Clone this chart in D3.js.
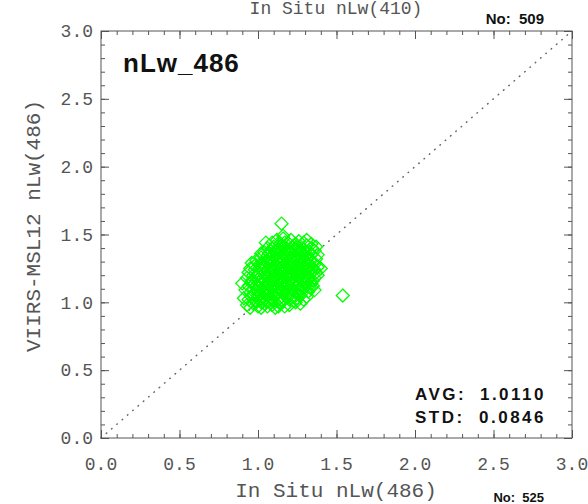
<!DOCTYPE html>
<html>
<head>
<meta charset="utf-8">
<script src="https://cdn.jsdelivr.net/npm/d3@7"></script>
<style>
  body { margin: 0; background: #fff; }
  svg { display: block; }
</style>
</head>
<body>
<div id="chart-area"></div>
<script>
// matchups: [in situ nLw(486), VIIRS-MSL12 nLw(486)]
var points = [
  [0.93,0.98],[0.95,0.96],[0.97,0.99],[1.00,0.97],[1.02,0.96],[1.04,0.99],[1.06,0.97],[1.09,0.98],
  [1.11,0.96],[1.14,0.99],[1.17,0.97],[1.20,0.98],[0.99,1.00],[1.08,1.00],[1.13,0.97],
  [0.94,1.02],[0.96,1.04],[0.98,1.01],[1.00,1.05],[1.01,1.02],[1.03,1.04],[1.05,1.01],[1.06,1.05],
  [1.08,1.03],[1.10,1.01],[1.11,1.05],[1.13,1.02],[1.15,1.04],[1.16,1.01],[1.18,1.05],[1.20,1.02],
  [1.22,1.04],[1.23,1.01],[1.25,1.03],[1.27,1.05],[1.29,1.02],[1.31,1.04],[0.97,1.06],[1.04,1.06],
  [1.12,1.06],[1.19,1.06],[1.26,1.06],[1.02,1.00],[1.14,1.00],[1.24,1.00],
  [0.92,1.09],[0.94,1.12],[0.95,1.07],[0.97,1.10],[0.98,1.14],[1.00,1.08],[1.01,1.11],[1.02,1.14],
  [1.04,1.07],[1.05,1.10],[1.06,1.13],[1.08,1.08],[1.09,1.11],[1.10,1.14],[1.12,1.07],[1.13,1.10],
  [1.14,1.13],[1.16,1.08],[1.17,1.11],[1.18,1.14],[1.20,1.07],[1.21,1.10],[1.22,1.13],[1.24,1.08],
  [1.25,1.11],[1.26,1.14],[1.28,1.07],[1.29,1.10],[1.30,1.13],[1.32,1.08],[1.33,1.11],[1.34,1.14],
  [1.36,1.09],[1.35,1.12],[0.96,1.15],[1.03,1.09],[1.07,1.15],[1.11,1.12],[1.15,1.09],[1.19,1.12],
  [1.23,1.15],[1.27,1.09],[1.31,1.15],[0.99,1.12],[1.06,1.06],[1.15,1.15],[1.21,1.08],[1.28,1.12],
  [1.12,1.09],[1.18,1.07],
  [0.93,1.18],[0.94,1.22],[0.96,1.16],[0.97,1.20],[0.98,1.24],[1.00,1.17],[1.01,1.21],[1.02,1.25],
  [1.04,1.16],[1.05,1.19],[1.06,1.23],[1.08,1.17],[1.09,1.21],[1.10,1.24],[1.12,1.16],[1.13,1.20],
  [1.14,1.23],[1.16,1.18],[1.17,1.22],[1.18,1.25],[1.20,1.16],[1.21,1.20],[1.22,1.24],[1.24,1.17],
  [1.25,1.21],[1.26,1.25],[1.28,1.16],[1.29,1.19],[1.30,1.23],[1.32,1.17],[1.33,1.21],[1.34,1.24],
  [1.36,1.18],[1.37,1.22],[1.38,1.20],[0.95,1.25],[1.03,1.18],[1.07,1.20],[1.11,1.19],[1.15,1.21],
  [1.19,1.19],[1.23,1.20],[1.27,1.22],[1.31,1.20],[1.35,1.16],[0.99,1.19],[1.08,1.24],[1.16,1.24],
  [1.24,1.24],[1.32,1.25],[1.12,1.22],[1.20,1.23],[1.28,1.18],[1.04,1.22],[1.36,1.24],[1.14,1.17],
  [1.22,1.18],[1.26,1.19],[1.18,1.21],[1.10,1.17],
  [0.98,1.27],[0.99,1.31],[1.01,1.28],[1.02,1.33],[1.04,1.26],[1.05,1.30],[1.06,1.34],[1.08,1.27],
  [1.09,1.31],[1.10,1.35],[1.12,1.26],[1.13,1.29],[1.14,1.33],[1.16,1.27],[1.17,1.31],[1.18,1.34],
  [1.20,1.26],[1.21,1.29],[1.22,1.33],[1.24,1.27],[1.25,1.31],[1.26,1.35],[1.28,1.26],[1.29,1.30],
  [1.30,1.34],[1.32,1.27],[1.33,1.31],[1.34,1.35],[1.36,1.28],[1.37,1.32],[1.38,1.26],[1.03,1.29],
  [1.07,1.32],[1.11,1.28],[1.15,1.30],[1.19,1.28],[1.23,1.30],[1.27,1.28],[1.31,1.32],[1.35,1.30],
  [1.02,1.36],[1.12,1.32],[1.20,1.32],[1.28,1.33],[1.16,1.35],[1.24,1.34],[1.08,1.29],[1.32,1.29],
  [1.22,1.27],[1.18,1.29],
  [1.04,1.37],[1.06,1.40],[1.08,1.38],[1.10,1.41],[1.12,1.36],[1.13,1.39],[1.15,1.42],[1.17,1.37],
  [1.18,1.40],[1.20,1.36],[1.21,1.39],[1.23,1.42],[1.25,1.37],[1.26,1.40],[1.28,1.36],[1.29,1.39],
  [1.31,1.42],[1.33,1.37],[1.34,1.40],[1.36,1.38],[1.37,1.41],[1.11,1.38],[1.19,1.38],[1.27,1.38],
  [1.22,1.41],[1.14,1.37],[1.30,1.37],[1.07,1.36],[1.16,1.40],[1.24,1.39],
  [1.09,1.44],[1.12,1.46],[1.14,1.43],[1.16,1.47],[1.19,1.44],[1.21,1.46],[1.24,1.43],[1.26,1.45],
  [1.29,1.44],[1.31,1.46],[1.34,1.43],[1.17,1.44],
  [0.90,1.14],[1.40,1.25],[1.05,1.44],[1.38,1.35],[0.91,1.03],[1.27,0.99],[1.16,1.49],[0.96,1.29],
  [1.15,1.58],[1.54,1.05]
];

var tickValues = [0.0, 0.5, 1.0, 1.5, 2.0, 2.5, 3.0];
var minorTicks = d3.range(0, 31).map(function(i) { return i / 10; });

var bandName = 'nLw_486';
var xTitle = 'In Situ nLw(486)';
var yTitle = 'VIIRS-MSL12 nLw(486)';
var countLabel = 'No:  509';
var statNames = ['AVG:', 'STD:'];
var statValues = ['1.0110', '0.0846'];

// neighbouring panels, pushed just inside the page edge
var prevTitle = 'In Situ nLw(410)';
var nextCount = 'No:  525';

var margin = { left: 101, right: 16, top: 31, bottom: 66 };
var width = 588 - margin.left - margin.right;
var height = 504 - margin.top - margin.bottom;

var axisColor = '#555';
var monoFont = '"Liberation Mono", "DejaVu Sans Mono", monospace';
var sansFont = '"Liberation Sans", Arial, sans-serif';

var svg = d3.select('#chart-area')
  .append('svg')
  .attr('width', 588)
  .attr('height', 504);

var g = svg.append('g')
  .attr('transform', 'translate(' + margin.left + ', ' + margin.top + ')');

var x = d3.scaleLinear().domain([0, 3]).range([0, width]);
var y = d3.scaleLinear().domain([0, 3]).range([height, 0]);

// 1:1 line
g.append('line')
  .attr('x1', x(0)).attr('y1', y(0))
  .attr('x2', x(3)).attr('y2', y(3))
  .attr('stroke', '#666')
  .attr('stroke-width', 1.5)
  .attr('stroke-linecap', 'round')
  .attr('stroke-dasharray', '0.5,6.5');

// points as hollow diamonds
var r = 6.5;
g.selectAll('path.pt')
  .data(points)
  .enter()
  .append('path')
    .attr('class', 'pt')
    .attr('d', function(d) {
      var cx = x(d[0]), cy = y(d[1]);
      return 'M' + cx + ',' + (cy - r) + 'L' + (cx + r) + ',' + cy +
        'L' + cx + ',' + (cy + r) + 'L' + (cx - r) + ',' + cy + 'Z';
    })
    .attr('fill', 'none')
    .attr('stroke', '#00ff00')
    .attr('stroke-width', 1.3);

// frame with inward ticks on all sides
function tickAxis(axis, transform) {
  var grp = g.append('g').attr('transform', transform);
  grp.call(axis);
  grp.select('.domain').remove();
  grp.selectAll('line').attr('stroke', axisColor);
  return grp;
}

var majorLen = 8, minorLen = 4;

tickAxis(d3.axisBottom(x).tickValues(minorTicks).tickSize(-minorLen).tickFormat(''), 'translate(0,' + height + ')');
tickAxis(d3.axisBottom(x).tickValues(tickValues).tickSize(-majorLen).tickFormat(''), 'translate(0,' + height + ')');
tickAxis(d3.axisTop(x).tickValues(minorTicks).tickSize(-minorLen).tickFormat(''), 'translate(0,0)');
tickAxis(d3.axisTop(x).tickValues(tickValues).tickSize(-majorLen).tickFormat(''), 'translate(0,0)');
tickAxis(d3.axisLeft(y).tickValues(minorTicks).tickSize(-minorLen).tickFormat(''), 'translate(0,0)');
tickAxis(d3.axisLeft(y).tickValues(tickValues).tickSize(-majorLen).tickFormat(''), 'translate(0,0)');
tickAxis(d3.axisRight(y).tickValues(minorTicks).tickSize(-minorLen).tickFormat(''), 'translate(' + width + ',0)');
tickAxis(d3.axisRight(y).tickValues(tickValues).tickSize(-majorLen).tickFormat(''), 'translate(' + width + ',0)');

g.append('rect')
  .attr('width', width)
  .attr('height', height)
  .attr('fill', 'none')
  .attr('stroke', axisColor)
  .attr('stroke-width', 1);

// tick labels
g.selectAll('text.xlab')
  .data(tickValues)
  .enter()
  .append('text')
    .attr('class', 'xlab')
    .attr('x', function(d) { return x(d); })
    .attr('y', height + 32)
    .attr('text-anchor', 'middle')
    .attr('font-family', monoFont)
    .attr('font-size', '18px')
    .attr('fill', axisColor)
    .text(function(d) { return d.toFixed(1); });

g.selectAll('text.ylab')
  .data(tickValues)
  .enter()
  .append('text')
    .attr('class', 'ylab')
    .attr('x', -8)
    .attr('y', function(d) { return y(d); })
    .attr('dy', '0.35em')
    .attr('text-anchor', 'end')
    .attr('font-family', monoFont)
    .attr('font-size', '18px')
    .attr('fill', axisColor)
    .text(function(d) { return d.toFixed(1); });

// axis titles
svg.append('text')
  .attr('x', 336)
  .attr('y', 497)
  .attr('text-anchor', 'middle')
  .attr('font-family', monoFont)
  .attr('font-size', '21px')
  .attr('fill', axisColor)
  .text(xTitle);

svg.append('text')
  .attr('transform', 'translate(40, 226) rotate(-90)')
  .attr('text-anchor', 'middle')
  .attr('font-family', monoFont)
  .attr('font-size', '21px')
  .attr('fill', axisColor)
  .text(yTitle);

svg.append('text')
  .attr('x', 336)
  .attr('y', 14)
  .attr('text-anchor', 'middle')
  .attr('font-family', monoFont)
  .attr('font-size', '18px')
  .attr('fill', axisColor)
  .text(prevTitle);

// annotations
svg.append('text')
  .attr('x', 123)
  .attr('y', 72)
  .attr('font-family', sansFont)
  .attr('font-weight', 'bold')
  .attr('font-size', '26px')
  .attr('letter-spacing', '1px')
  .attr('fill', '#111')
  .text(bandName);

svg.append('text')
  .attr('x', 544)
  .attr('y', 24)
  .attr('text-anchor', 'end')
  .attr('font-family', sansFont)
  .attr('font-weight', 'bold')
  .attr('font-size', '15px')
  .attr('fill', '#111')
  .style('white-space', 'pre')
  .text(countLabel);

svg.append('text')
  .attr('x', 544)
  .attr('y', 502)
  .attr('text-anchor', 'end')
  .attr('font-family', sansFont)
  .attr('font-weight', 'bold')
  .attr('font-size', '13px')
  .attr('fill', '#111')
  .style('white-space', 'pre')
  .text(nextCount);

statNames.forEach(function(name, i) {
  svg.append('text')
    .attr('x', 415)
    .attr('y', 400 + i * 23)
    .attr('font-family', sansFont)
    .attr('font-weight', 'bold')
    .attr('font-size', '17px')
    .attr('letter-spacing', '2.5px')
    .attr('fill', '#111')
    .text(name);
  svg.append('text')
    .attr('x', 546)
    .attr('y', 400 + i * 23)
    .attr('text-anchor', 'end')
    .attr('font-family', sansFont)
    .attr('font-weight', 'bold')
    .attr('font-size', '17px')
    .attr('letter-spacing', '2.5px')
    .attr('fill', '#111')
    .text(statValues[i]);
});
</script>
</body>
</html>
